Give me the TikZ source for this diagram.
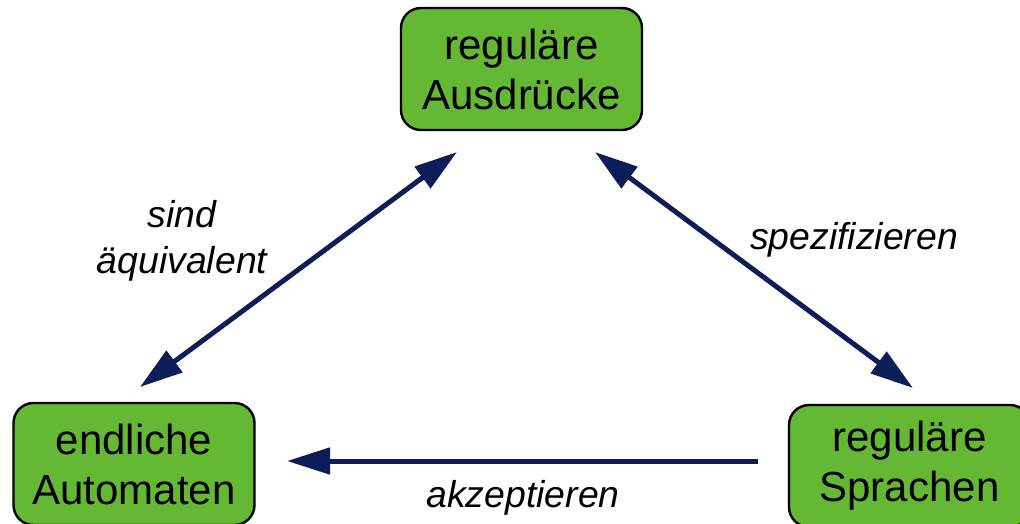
\documentclass[tikz,border=0pt]{standalone}
\usepackage{fontspec}
\setmainfont{Liberation Sans}
\usetikzlibrary{arrows.meta}
\definecolor{boxgreen}{RGB}{101,184,52}
\definecolor{arrownavy}{RGB}{12,29,88}
\tikzset{
  conceptbox/.style={draw=black, line width=2.4pt, fill=boxgreen,
    rounded corners=20pt, minimum width=241pt, minimum height=122pt,
    inner sep=0pt, align=center,
    font=\fontsize{42}{50}\selectfont},
  relation/.style={draw=arrownavy, line width=5pt,
    -{Triangle[length=43pt,width=26pt]}},
  bothways/.style={relation, {Triangle[length=43pt,width=26pt]}-{Triangle[length=43pt,width=26pt]}},
  edgelabel/.style={inner sep=0pt, align=center,
    font=\fontsize{37.4}{46}\selectfont\itshape}
}
\begin{document}
\begin{tikzpicture}[x=1pt,y=-1pt]
  \useasboundingbox (0,0) rectangle (1020,523);

  % the three concepts
  \node[conceptbox] (regex) at (521.5,69) {reguläre\\Ausdrücke};
  \node[conceptbox] (automata) at (134,464) {endliche\\Automaten};
  \node[conceptbox] (languages) at (909.5,466) {reguläre\\Sprachen};

  % arrow end points
  \coordinate (eqA) at (140,387);
  \coordinate (eqB) at (457,152);
  \coordinate (spA) at (595,152);
  \coordinate (spB) at (913,388);
  \coordinate (akA) at (758,461);
  \coordinate (akB) at (287,461);

  \draw[bothways] (eqA) -- (eqB);
  \draw[bothways] (spA) -- (spB);
  \draw[relation] (akA) -- (akB);

  % relation labels
  \node[edgelabel] (lblEq) at (182,241) {sind\\äquivalent};
  \node[edgelabel, anchor=base] (lblSp) at (854,249) {spezifizieren};
  \node[edgelabel, anchor=base] (lblAk) at (523,507) {akzeptieren};
\end{tikzpicture}
\end{document}
